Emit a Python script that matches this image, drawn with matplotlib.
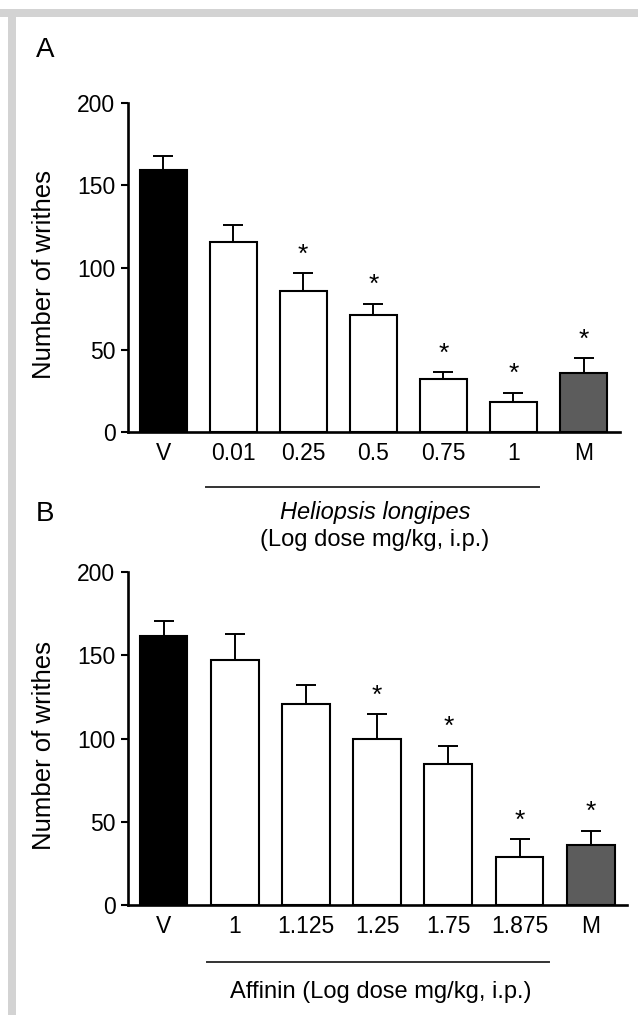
import numpy as np
import matplotlib
matplotlib.use("Agg")
import matplotlib.pyplot as plt
from matplotlib.patches import Rectangle
import matplotlib.transforms as mtransforms

plt.rcParams['font.family'] = ['Liberation Sans', 'DejaVu Sans']

# panel A : Heliopsis longipes extract
labels_a = ["V", "0.01", "0.25", "0.5", "0.75", "1", "M"]
mean_a = [159, 115.5, 85.5, 71, 32, 18, 36]
sem_a = [9, 10.5, 11, 7, 4.5, 6, 9]
star_a = [False, False, True, True, True, True, True]

# panel B : affinin
labels_b = ["V", "1", "1.125", "1.25", "1.75", "1.875", "M"]
mean_b = [161.5, 147, 121, 99.5, 84.5, 29, 36]
sem_b = [9, 16, 11, 15, 11, 10.5, 8.5]
star_b = [False, False, False, True, True, True, True]

colors = ["black", "white", "white", "white", "white", "white", "#5c5c5c"]

FS = 16.5

fig = plt.figure(figsize=(6.38, 10.15), dpi=100)

# grey frame strips of the original scan
fig.add_artist(Rectangle((0, 1 - 17/1015), 1, 8/1015, transform=fig.transFigure,
                         color="#d3d3d3", lw=0, zorder=0))
fig.add_artist(Rectangle((8/638, 0), 8/638, 1 - 9/1015, transform=fig.transFigure,
                         color="#d3d3d3", lw=0, zorder=0))


def panel(ax, labels, mean, sem, star, xmax, line_y, line_x, texts, ylab_x):
    x = np.arange(len(labels))
    ax.bar(x, mean, width=0.67, color=colors, edgecolor="black", linewidth=1.5, zorder=2)
    ax.errorbar(x, mean, yerr=[np.zeros(len(sem)), sem], fmt="none", ecolor="black",
                elinewidth=1.4, capsize=7, capthick=1.4, zorder=1)
    for xi, m, s, st in zip(x, mean, sem, star):
        if st:
            ax.text(xi, m + s + 4, "*", ha="center", va="bottom", fontsize=19)
    ax.set_xlim(-0.5, xmax)
    ax.set_ylim(0, 200)
    ax.set_yticks([0, 50, 100, 150, 200])
    ax.set_xticks(x)
    ax.set_xticklabels(labels)
    for s in ("top", "right"):
        ax.spines[s].set_visible(False)
    ax.spines["left"].set_linewidth(1.9)
    ax.spines["bottom"].set_linewidth(1.9)
    ax.tick_params(axis="y", length=5, width=1.5, labelsize=FS, pad=4)
    ax.tick_params(axis="x", length=0, labelsize=FS, pad=7)
    ax.set_ylabel("Number of writhes", fontsize=18.5)
    ax.yaxis.set_label_coords(ylab_x, 0.48)
    trans = mtransforms.blended_transform_factory(ax.transData, ax.transAxes)
    ax.plot(line_x, [line_y, line_y], color="#333333", lw=1.4, transform=trans, clip_on=False)
    for (ty, txt, style) in texts:
        ax.text(np.mean(line_x) + 0.03, ty, txt, ha="center", va="center", fontsize=17,
                style=style, transform=trans)


ax1 = fig.add_axes([128/638, 1 - 432/1015, (620 - 128)/638, 329/1015])
panel(ax1, labels_a, mean_a, sem_a, star_a, 6.52, -0.167, [0.62, 5.37],
      [(-0.246, "Heliopsis longipes", "italic"),
       (-0.328, "(Log dose mg/kg, i.p.)", "normal")], -0.146)

ax2 = fig.add_axes([128/638, 1 - 905/1015, (627 - 128)/638, 333/1015])
panel(ax2, labels_b, mean_b, sem_b, star_b, 6.51, -0.172, [0.61, 5.42],
      [(-0.262, "Affinin (Log dose mg/kg, i.p.)", "normal")], -0.144)

fig.text(36/638, 1 - 50/1015, "A", fontsize=20, ha="left", va="center")
fig.text(36/638, 1 - 514/1015, "B", fontsize=20, ha="left", va="center")

fig.savefig("out.png", dpi=100)
